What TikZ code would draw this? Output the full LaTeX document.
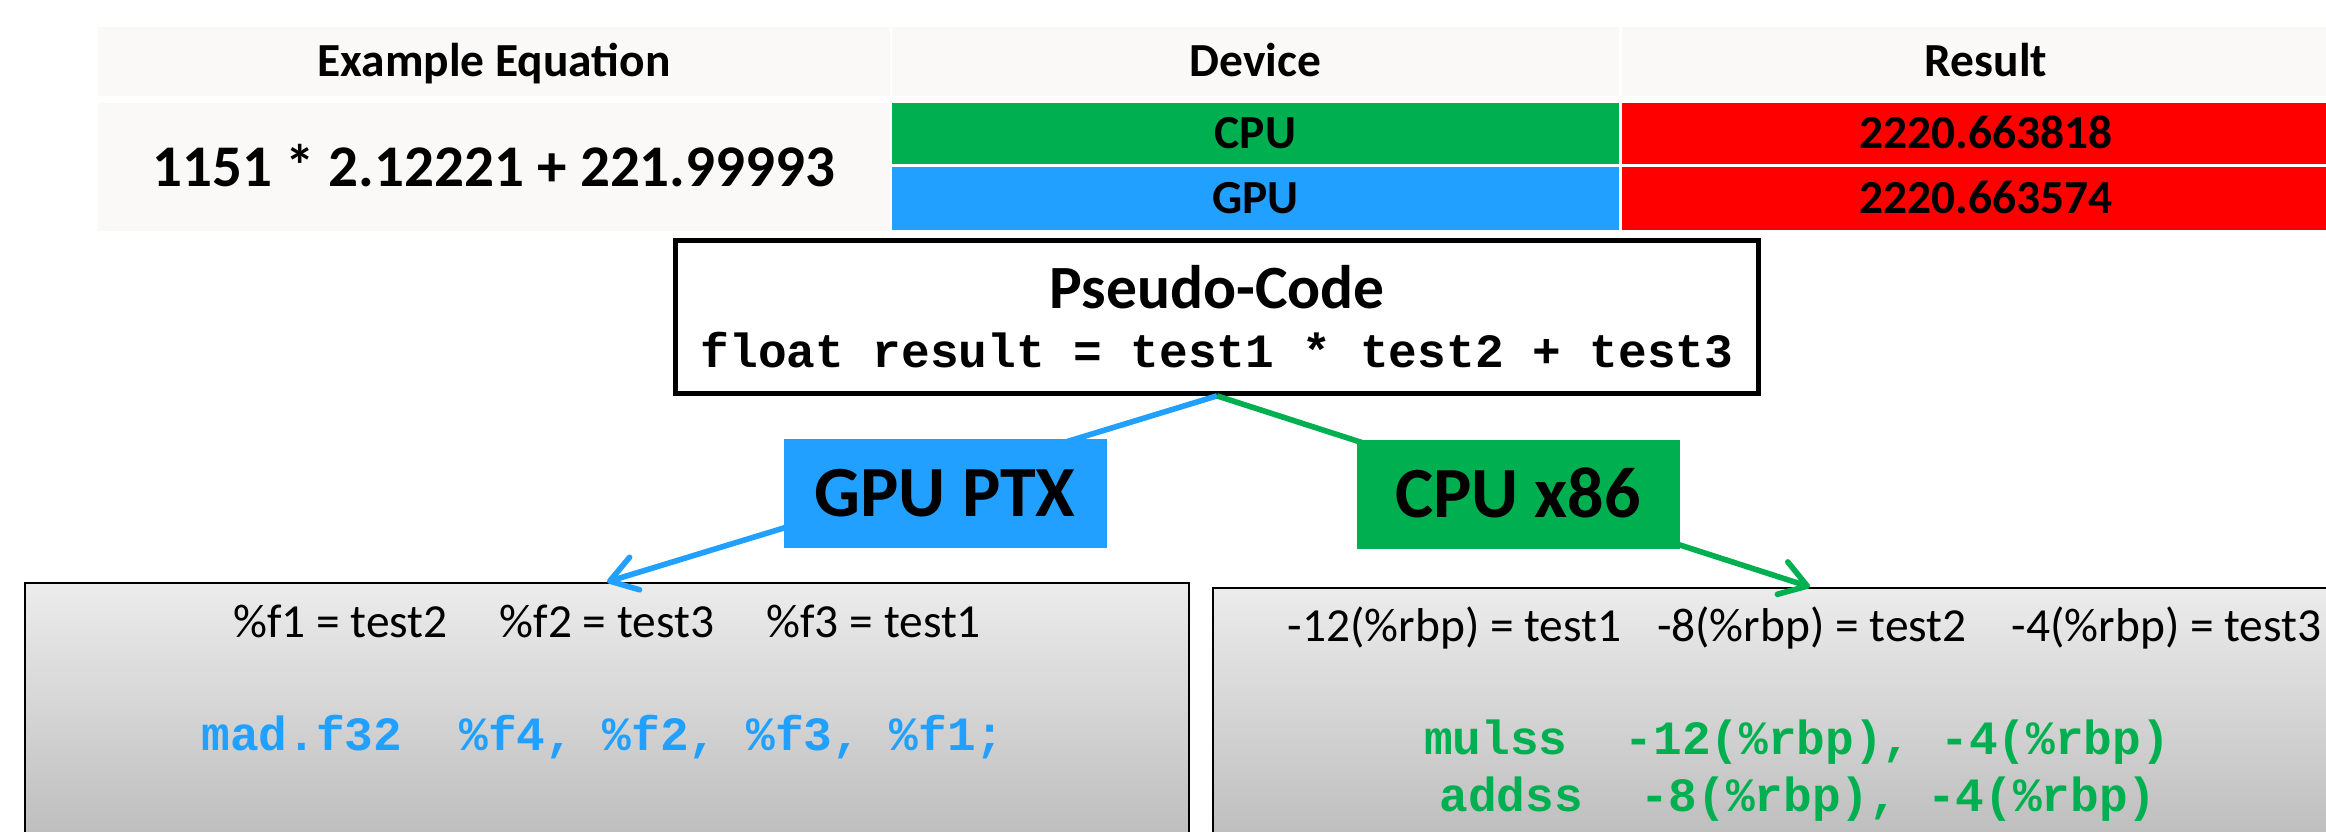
\documentclass[tikz,border=0pt]{standalone}
\usepackage{fontspec}
\setmainfont{Carlito}
\newfontfamily\codefont{Liberation Mono}
\definecolor{ptxblue}{RGB}{34,160,255}
\definecolor{x86green}{RGB}{0,176,80}
\definecolor{resred}{RGB}{255,0,0}
\definecolor{cellgray}{RGB}{250,249,247}
\definecolor{boxtop}{RGB}{236,236,236}
\definecolor{boxbottom}{RGB}{178,178,178}
\usetikzlibrary{arrows.meta}

\begin{document}
\begin{tikzpicture}[
  cell/.style={inner sep=0pt, text height=0.31cm, text depth=0pt, font=\fontsize{13.5}{16}\selectfont\bfseries},
  tag/.style={inner sep=0pt, minimum width=3.23cm, minimum height=1.09cm, text height=0.465cm, text depth=0pt, font=\fontsize{20.5}{24}\selectfont\bfseries},
  codebox/.style={draw=black, line width=0.6pt, top color=boxtop, bottom color=boxbottom, inner sep=0pt},
  regs/.style={anchor=base, inner sep=0pt, font=\fontsize{13.5}{16}\selectfont},
  asm/.style={anchor=base, inner sep=0pt, font=\codefont\fontsize{13.6}{16}\selectfont\bfseries},
  link/.style={line width=1.6pt, -{Straight Barb[length=2.6mm,width=3.4mm,round]}}
]
  \useasboundingbox (0,0) rectangle (23.26,-8.32);
  \clip (0,0) rectangle (23.26,-8.32);
  % Results table
  \node[cell, fill=cellgray, minimum width=7.92cm, minimum height=0.69cm] (eqhead) at (4.94,-0.615) {Example Equation};
  \node[cell, fill=cellgray, minimum width=7.27cm, minimum height=0.69cm] (devhead) at (12.555,-0.615) {Device};
  \node[cell, fill=cellgray, minimum width=7.28cm, minimum height=0.69cm] (reshead) at (19.86,-0.615) {Result};
  \node[cell, fill=cellgray, minimum width=7.92cm, minimum height=1.28cm, text height=0.40cm, font=\fontsize{16.8}{20}\selectfont\bfseries] (eq) at (4.94,-1.67) {1151 * 2.12221 + 221.99993};
  \node[cell, fill=x86green, minimum width=7.27cm, minimum height=0.61cm] (cpu) at (12.555,-1.335) {CPU};
  \node[cell, fill=ptxblue, minimum width=7.27cm, minimum height=0.63cm] (gpu) at (12.555,-1.985) {GPU};
  \node[cell, fill=resred, minimum width=7.28cm, minimum height=0.61cm] (cpures) at (19.86,-1.335) {2220.663818};
  \node[cell, fill=resred, minimum width=7.28cm, minimum height=0.63cm] (gpures) at (19.86,-1.985) {2220.663574};
  % Source line
  \node[draw=black, line width=1.35pt, fill=white, minimum width=10.83cm, minimum height=1.53cm, inner sep=0pt, align=center, font=\fontsize{13.6}{16.8}\selectfont] (pseudo) at (12.17,-3.17) {{\fontsize{17.5}{16.8}\selectfont\bfseries Pseudo-Code}\\{\codefont\bfseries float result = test1 * test2 + test3}};
  % Compiled code boxes
  \node[codebox, minimum width=11.64cm, minimum height=3.17cm] (ptxbox) at (6.07,-7.415) {};
  \node[codebox, minimum width=11.94cm, minimum height=3.12cm] (x86box) at (18.10,-7.44) {};
  % Arrows
  \draw[link, ptxblue] (pseudo.south) -- (ptxbox.north);
  \draw[link, x86green] (pseudo.south) -- (x86box.north);
  % Tags
  \node[tag, fill=ptxblue] (ptxtag) at (9.45,-4.935) {GPU PTX};
  \node[tag, fill=x86green] (x86tag) at (15.18,-4.945) {CPU x86};
  % Code text
  \node[regs] (ptxregs) at (6.07,-6.38) {\%f1 = test2\hspace{1.1em}\%f2 = test3\hspace{1.1em}\%f3 = test1};
  \node[asm, text=ptxblue] (ptxcode) at (6.03,-7.51) {mad.f32~~\%f4, \%f2, \%f3, \%f1;};
  \node[regs, anchor=base west] (x86regs) at (12.87,-6.42) {-12(\%rbp) = test1\hspace{0.75em}-8(\%rbp) = test2\hspace{0.95em}-4(\%rbp) = test3};
  \node[asm, text=x86green] (x86mul) at (17.97,-7.55) {mulss~~-12(\%rbp), -4(\%rbp)};
  \node[asm, text=x86green] (x86add) at (17.98,-8.12) {addss~~-8(\%rbp), -4(\%rbp)};
\end{tikzpicture}
\end{document}
